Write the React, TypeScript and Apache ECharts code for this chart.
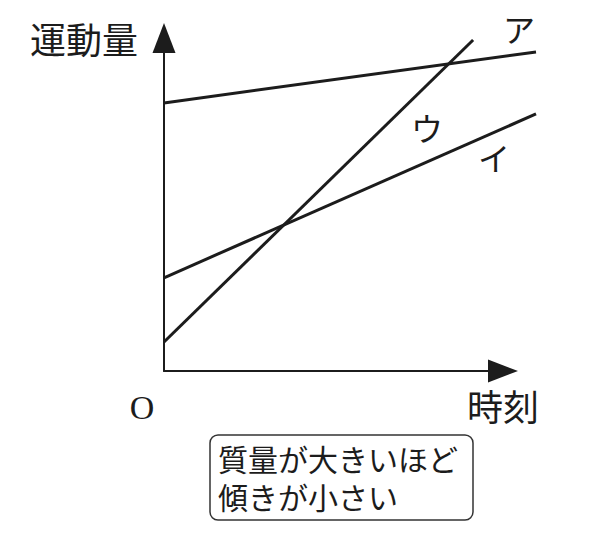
import React, { useEffect, useRef } from 'react';
import * as echarts from 'echarts';

// data units: x 0..11 over the lines' grid (the x arrow sits at about 10), y 0..10
const lineNames = ['ア', 'イ', 'ウ'];
const lineStartX = [0, 0, 0];
const lineStartY = [8.05, 2.8, 0.87];
const lineEndX = [11, 11, 9.14];
const lineEndY = [9.58, 7.72, 9.94];

const yAxisTitle = '運動量';
const xAxisTitle = '時刻';
const originLabel = 'O';
const noteLines = ['質量が大きいほど', '傾きが小さい'];

const INK = '#1c1c1c';
const JP = '"Noto Sans CJK JP", "Noto Sans", sans-serif';

export default function App() {
  const ref = useRef<HTMLDivElement>(null);

  useEffect(() => {
    if (!ref.current) return;
    const chart = echarts.init(ref.current, null, { renderer: 'svg' });

    const axisLine = {
      show: true,
      symbol: ['none', 'triangle'],
      symbolSize: [23, 30],
      lineStyle: { color: INK, width: 2 },
    };
    const hidden = {
      axisLine: { show: false }, axisTick: { show: false },
      axisLabel: { show: false }, splitLine: { show: false },
    };

    chart.setOption({
      animation: false,
      backgroundColor: '#ffffff',
      grid: [
        // the lines run past the x arrow, so they get a wider grid of their own
        { left: 164, top: 38, width: 372, height: 333 },
        // the drawn axes, ending at the arrow centres
        { left: 164, top: 38, width: 339, height: 333 },
      ],
      xAxis: [
        { type: 'value', gridIndex: 0, min: 0, max: 11, ...hidden },
        {
          type: 'value', gridIndex: 1, min: 0, max: 10,
          axisLine, axisTick: { show: false }, axisLabel: { show: false }, splitLine: { show: false },
        },
      ],
      yAxis: [
        { type: 'value', gridIndex: 0, min: 0, max: 10, ...hidden },
        {
          type: 'value', gridIndex: 1, min: 0, max: 10,
          axisLine, axisTick: { show: false }, axisLabel: { show: false }, splitLine: { show: false },
        },
      ],
      series: lineNames.map((name, i) => ({
        name,
        type: 'line',
        xAxisIndex: 0,
        yAxisIndex: 0,
        symbol: 'none',
        clip: false,
        silent: true,
        lineStyle: { color: INK, width: 3 },
        data: [[lineStartX[i], lineStartY[i]], [lineEndX[i], lineEndY[i]]],
      })),
      graphic: [
        { type: 'text', x: 30, y: 38, style: { text: yAxisTitle, font: `36px ${JP}`, fill: INK, verticalAlign: 'middle' } },
        { type: 'text', x: 467, y: 405, style: { text: xAxisTitle, font: `36px ${JP}`, fill: INK, verticalAlign: 'middle' } },
        { type: 'text', x: 142, y: 407, style: { text: originLabel, font: '34px "Liberation Serif", serif', fill: INK, align: 'center', verticalAlign: 'middle' } },
        { type: 'text', x: 519, y: 28, style: { text: lineNames[0], font: `32px ${JP}`, fill: INK, align: 'center', verticalAlign: 'middle' } },
        { type: 'text', x: 494, y: 157, style: { text: lineNames[1], font: `32px ${JP}`, fill: INK, align: 'center', verticalAlign: 'middle' } },
        { type: 'text', x: 427, y: 127, style: { text: lineNames[2], font: `32px ${JP}`, fill: INK, align: 'center', verticalAlign: 'middle' } },
        {
          type: 'rect',
          shape: { x: 210, y: 435, width: 263, height: 85, r: 8 },
          style: { fill: '#ffffff', stroke: '#333333', lineWidth: 1.5 },
        },
        {
          type: 'text', x: 218, y: 477,
          style: {
            text: noteLines.join('\n'), font: `30px ${JP}`, lineHeight: 38,
            fill: INK, verticalAlign: 'middle',
          },
        },
      ],
    });

    return () => chart.dispose();
  }, []);

  return (
    <div
      ref={ref}
      style={{ position: 'fixed', left: 0, top: 0, width: 600, height: 555 }}
    />
  );
}
